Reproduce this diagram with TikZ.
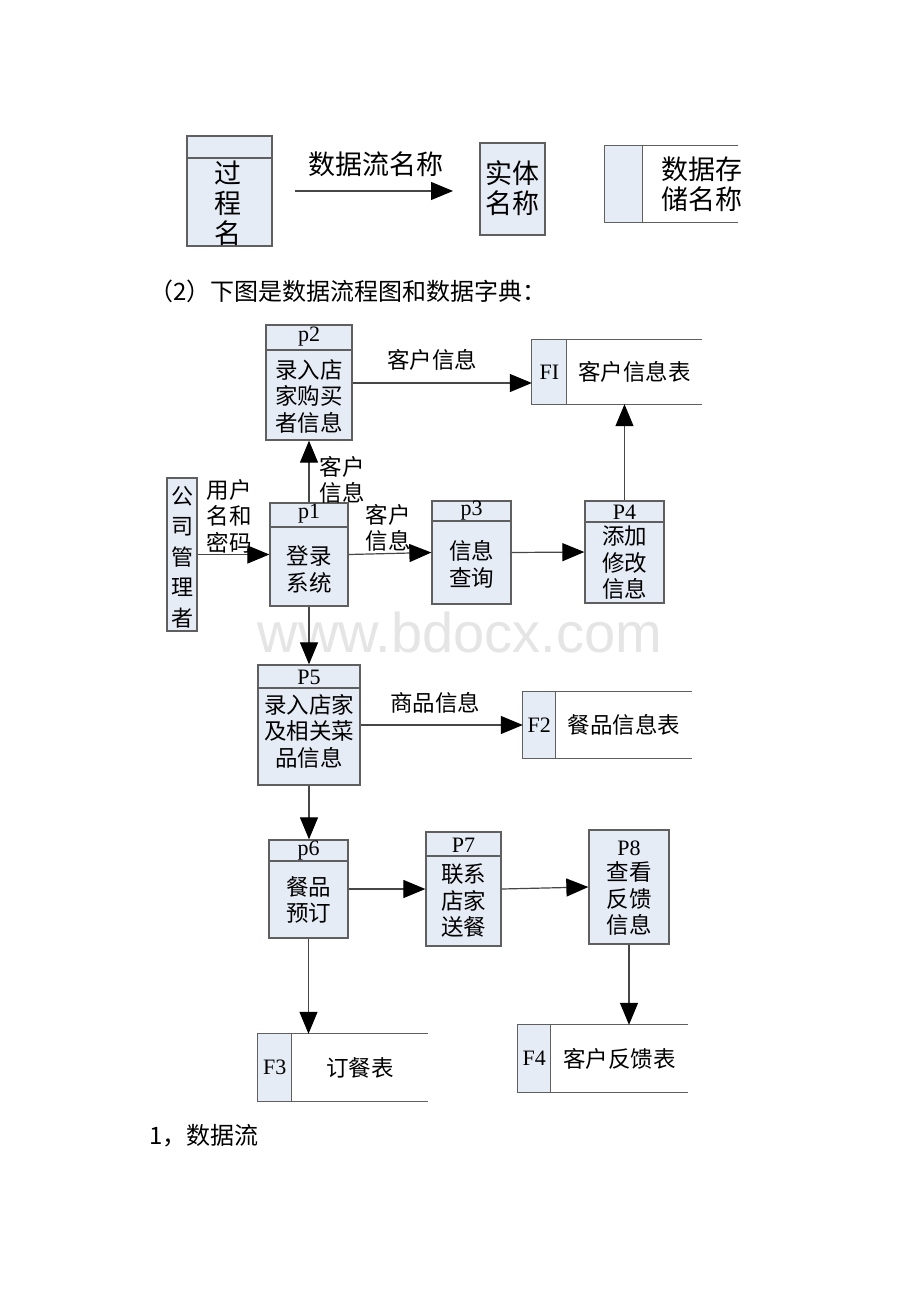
\documentclass[tikz,border=0pt]{standalone}
\usepackage{fontspec}
\setmainfont{Liberation Serif}
\newfontfamily\cjk{Noto Sans CJK SC}
\newfontfamily\wmfont{Liberation Sans}
\usetikzlibrary{arrows.meta,calc}
\definecolor{boxfill}{RGB}{230,236,246}
\definecolor{boxline}{RGB}{95,95,95}
\definecolor{flowline}{RGB}{70,70,70}
\newcommand\mystore[8]{%
  % name, cx, cy, w, h, cell width, code, label
  \node[storeframe, minimum width=#4pt, minimum height=#5pt] (#1) at (#2,#3) {};
  \fill[boxfill] (#1.north west) rectangle ([xshift=#6pt]#1.south west);
  \draw[storeline] (#1.north east) -- (#1.north west) -- (#1.south west) -- (#1.south east);
  \draw[storeline] ([xshift=#6pt]#1.north west) -- ([xshift=#6pt]#1.south west);
  \node[hdr] (#1code) at ($(#1.west)+(#6/2,0)$) {#7};
  \node[cn] (#1label) at ($(#1.east)!0.5!([xshift=#6pt]#1.west)$) {#8};
}
\begin{document}
\begin{tikzpicture}[x=1pt,y=-1pt,
  proc/.style={draw=boxline,fill=boxfill,line width=1.3pt,inner sep=0pt,rectangle},
  storeframe/.style={inner sep=0pt,rectangle},
  storeline/.style={draw=boxline,line width=1.3pt},
  divline/.style={draw=boxline,line width=1.3pt},
  flow/.style={draw=flowline,line width=1.2pt,-{Triangle[length=22pt,width=18pt,color=black]}},
  cn/.style={font=\cjk\fontsize{22.5}{26.5}\selectfont,align=center,inner sep=0pt},
  cnbig/.style={font=\cjk\fontsize{27}{30}\selectfont,align=center,inner sep=0pt},
  hdr/.style={font=\fontsize{22}{24}\selectfont,inner sep=0pt},
  txt/.style={font=\cjk\fontsize{24}{26}\selectfont,inner sep=0pt,anchor=west},
]
\useasboundingbox (0,0) rectangle (920,1302);
\fill[white] (0,0) rectangle (920,1302);

% watermark
\node[font=\wmfont\fontsize{56}{60}\selectfont,text=black!10,inner sep=0pt] (wm) at (460,632) {www.bdocx.com};

% ---------- legend ----------
\node[proc,minimum width=85pt,minimum height=110pt] (lproc) at (229.5,191) {};
\draw[divline] (lproc.north west |- 0,158) -- (lproc.north east |- 0,158);
\node[cnbig] (lproctext) at (228,203) {过\\程\\名};
\coordinate (la) at (295,191);
\coordinate (lb) at (453,191);
\draw[flow] (la) -- (lb);
\node[cnbig] (lflowlabel) at (376,164) {数据流名称};
\node[proc,minimum width=65pt,minimum height=92pt] (lent) at (512.5,189) {};
\node[cnbig] (lenttext) at (512.5,188) {实体\\名称};
\node[storeframe,minimum width=133pt,minimum height=76pt] (lstore) at (671.5,184) {};
\fill[boxfill] (lstore.north west) rectangle ([xshift=38pt]lstore.south west);
\draw[storeline] (lstore.north east) -- (lstore.north west) -- (lstore.south west) -- (lstore.south east);
\draw[storeline] ([xshift=38pt]lstore.north west) -- ([xshift=38pt]lstore.south west);
\node[cnbig,anchor=west] (lstoretext) at (661,184) {数据存\\储名称};

% ---------- text line ----------
\node[txt] (cap2) at (149,291) {（2）下图是数据流程图和数据字典：};

% ---------- p2 ----------
\node[proc,minimum width=86pt,minimum height=115pt] (p2) at (309,382.5) {};
\draw[divline] (p2.west |- 0,350) -- (p2.east |- 0,350);
\node[hdr] (p2h) at (309,337) {p2};
\node[cn] (p2t) at (309,396.5) {录入店\\家购买\\者信息};

% ---------- F1 ----------
\mystore{f1}{617}{372}{170}{64}{35}{FI}{客户信息表}

% ---------- entity ----------
\node[proc,minimum width=30pt,minimum height=153pt] (gs) at (182,554.5) {};
\node[font=\cjk\fontsize{22}{30.5}\selectfont,align=center,inner sep=0pt] (gst) at (182,557) {公\\司\\管\\理\\者};

% ---------- p1 ----------
\node[proc,minimum width=78pt,minimum height=103pt] (p1) at (309,554.5) {};
\draw[divline] (p1.west |- 0,527) -- (p1.east |- 0,527);
\node[hdr] (p1h) at (309,514) {p1};
\node[cn] (p1t) at (309,569.5) {登录\\系统};

% ---------- p3 ----------
\node[proc,minimum width=79pt,minimum height=103pt] (p3) at (471.5,552.5) {};
\draw[divline] (p3.west |- 0,521) -- (p3.east |- 0,521);
\node[hdr] (p3h) at (471.5,511) {p3};
\node[cn] (p3t) at (471.5,564.5) {信息\\查询};

% ---------- P4 ----------
\node[proc,minimum width=79pt,minimum height=102pt] (p4) at (624.5,552) {};
\draw[divline] (p4.west |- 0,522) -- (p4.east |- 0,522);
\node[hdr] (p4h) at (624.5,512) {P4};
\node[cn] (p4t) at (624.5,563) {添加\\修改\\信息};

% ---------- P5 ----------
\node[proc,minimum width=102pt,minimum height=120pt] (p5) at (309,725) {};
\draw[divline] (p5.west |- 0,688) -- (p5.east |- 0,688);
\node[hdr] (p5h) at (309,677) {P5};
\node[cn] (p5t) at (309,731) {录入店家\\及相关菜\\品信息};

% ---------- F2 ----------
\mystore{f2}{607.5}{725}{169}{66}{33}{F2}{餐品信息表}

% ---------- p6 ----------
\node[proc,minimum width=79pt,minimum height=98pt] (p6) at (308.5,889) {};
\draw[divline] (p6.west |- 0,861) -- (p6.east |- 0,861);
\node[hdr] (p6h) at (308.5,851) {p6};
\node[cn] (p6t) at (308.5,900) {餐品\\预订};

% ---------- P7 ----------
\node[proc,minimum width=75pt,minimum height=114pt] (p7) at (463.5,889) {};
\draw[divline] (p7.west |- 0,856) -- (p7.east |- 0,856);
\node[hdr] (p7h) at (463.5,845) {P7};
\node[cn] (p7t) at (463.5,901) {联系\\店家\\送餐};

% ---------- P8 ----------
\node[proc,minimum width=80pt,minimum height=114pt] (p8) at (629,887) {};
\node[hdr] (p8h) at (629,848) {P8};
\node[cn] (p8t) at (629,898.5) {查看\\反馈\\信息};

% ---------- F3, F4 ----------
\mystore{f3}{343}{1067.5}{170}{67}{34}{F3}{订餐表}
\mystore{f4}{603}{1058.5}{170}{67}{33}{F4}{客户反馈表}

% ---------- flows ----------
\draw[flow] (p2.east |- 0,383) -- (f1.west |- 0,383);
\node[cn] (l1) at (432,360) {客户信息};
\draw[flow] (p1.north) -- (p2.south);
\node[cn] (l2) at (342,480) {客户\\信息};
\draw[flow] (gs.east) -- (p1.west);
\node[cn] (l3) at (229,516) {用户\\名和\\密码};
\draw[flow] (p1.east) -- (p3.west);
\node[cn] (l4) at (388,528) {客户\\信息};
\draw[flow] (p3.east) -- (p4.west);
\draw[flow] (p4.north) -- (p4.north |- f1.south);
\draw[flow] (p1.south) -- (p5.north);
\draw[flow] (p5.east) -- (f2.west);
\node[cn] (l5) at (435,703) {商品信息};
\draw[flow] (p5.south) -- (p5.south |- p6.north);
\draw[flow] (p6.east) -- (p7.west);
\draw[flow] (p7.east) -- (p8.west);
\draw[flow] (p8.south) -- (p8.south |- f4.north);
\draw[flow] (p6.south) -- (p6.south |- f3.north);

% ---------- final text line ----------
\node[txt] (cap1) at (149,1136) {1，数据流};
\end{tikzpicture}
\end{document}
